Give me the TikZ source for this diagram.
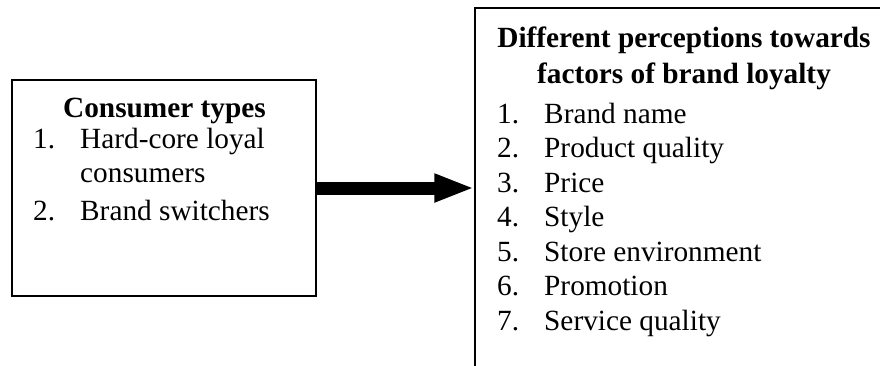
\documentclass[tikz,border=0pt]{standalone}
\usepackage{fontspec}
\setmainfont{Liberation Serif}
\usetikzlibrary{arrows.meta}
\begin{document}
\begin{tikzpicture}[x=1pt,y=-1pt,
  box/.style={draw=black,line width=1.2pt,inner sep=0pt},
  txt/.style={anchor=base west,inner sep=0pt,font=\fontsize{29.3}{34}\selectfont},
  head/.style={anchor=base,inner sep=0pt,font=\fontsize{29.3}{34}\selectfont\bfseries},
  bigarrow/.style={line width=13pt,-{Triangle[length=40pt,width=26pt]}}]
\useasboundingbox (0,0) rectangle (880,365);
\clip (0,0) rectangle (880,365);
% boxes
\node[box,minimum width=304pt,minimum height=216pt] (lbox) at (164,188) {};
\node[box,minimum width=418pt,minimum height=380pt] (rbox) at (684,198) {};
% arrow
\draw[bigarrow] (lbox.east) -- (lbox.east -| rbox.west);
% left box text
\node[head] (lh) at (164.5,117) {Consumer types};
\node[txt] (ln1) at (33,148) {1.};
\node[txt] (lt1) at (80,148) {Hard-core loyal};
\node[txt] (lt1b) at (80,182) {consumers};
\node[txt] (ln2) at (33,220) {2.};
\node[txt] (lt2) at (80,220) {Brand switchers};
% right box text
\node[head] (rh1) at (684,47) {Different perceptions towards};
\node[head] (rh2) at (684,83) {factors of brand loyalty};
\foreach \i/\t [count=\k from 0] in {1/Brand name,2/Product quality,3/Price,4/Style,5/Store environment,6/Promotion,7/Service quality}{
  \node[txt] (rn\i) at (497,123+34.5*\k) {\i.};
  \node[txt] (rt\i) at (544,123+34.5*\k) {\t};
}
\end{tikzpicture}
\end{document}
